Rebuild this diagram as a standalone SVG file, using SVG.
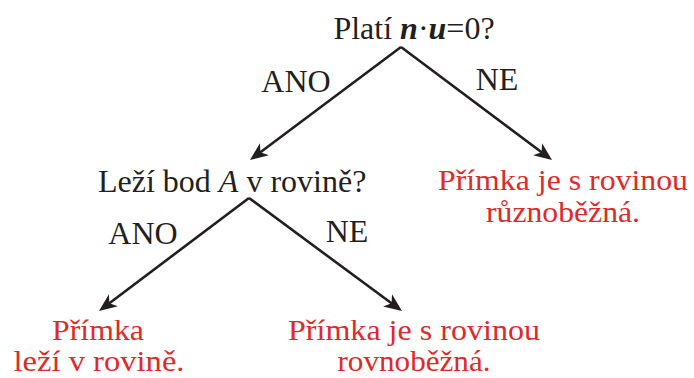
<svg xmlns="http://www.w3.org/2000/svg" width="694" height="378" viewBox="0 0 694 378">
<style>
  text { font-family: "Liberation Serif", "Times New Roman", serif; font-size: 32px; fill: #231f20; }
  .red { fill: #dd2a2a; text-anchor: middle; font-size: 30px; }
  .c { text-anchor: middle; }
  .bi { font-weight: bold; font-style: italic; }
  .conn path { stroke: #231f20; stroke-width: 2.6; fill: none; marker-end: url(#arr); }
</style>
<defs>
  <marker id="arr" markerUnits="userSpaceOnUse" markerWidth="20" markerHeight="16" viewBox="0 -8 20 16" refX="10" refY="0" orient="auto">
    <path d="M18,0 L0,-7.5 L5,0 L0,7.5 Z" fill="#231f20"/>
  </marker>
</defs>
<rect width="694" height="378" fill="#ffffff"/>
<g id="q1">
  <text class="c" x="414" y="39">Platí <tspan class="bi">n</tspan>·<tspan class="bi">u</tspan>=0?</text>
</g>
<g id="q2">
  <text x="98" y="192">Leží bod <tspan font-style="italic">A</tspan> v rovině?</text>
</g>
<g id="r1">
  <text class="red" x="563" y="190" textLength="250" lengthAdjust="spacingAndGlyphs">Přímka je s rovinou</text>
  <text class="red" x="563" y="222" textLength="154" lengthAdjust="spacingAndGlyphs">různoběžná.</text>
</g>
<g id="r2">
  <text class="red" x="98" y="340" textLength="92" lengthAdjust="spacingAndGlyphs">Přímka</text>
  <text class="red" x="99" y="371" textLength="171" lengthAdjust="spacingAndGlyphs">leží v rovině.</text>
</g>
<g id="r3">
  <text class="red" x="414" y="340" textLength="252" lengthAdjust="spacingAndGlyphs">Přímka je s rovinou</text>
  <text class="red" x="414" y="371" textLength="153" lengthAdjust="spacingAndGlyphs">rovnoběžná.</text>
</g>
<g id="connectors" class="conn">
  <path d="M401,47 L256.4,155.2"/>
  <path d="M401,47 L545.6,155.2"/>
  <path d="M249,198 L105.4,306.2"/>
  <path d="M249,198 L395.6,306.3"/>
  <text class="c" x="296" y="92">ANO</text>
  <text class="c" x="497" y="90">NE</text>
  <text class="c" x="143" y="244">ANO</text>
  <text class="c" x="347" y="242">NE</text>
</g>
</svg>
